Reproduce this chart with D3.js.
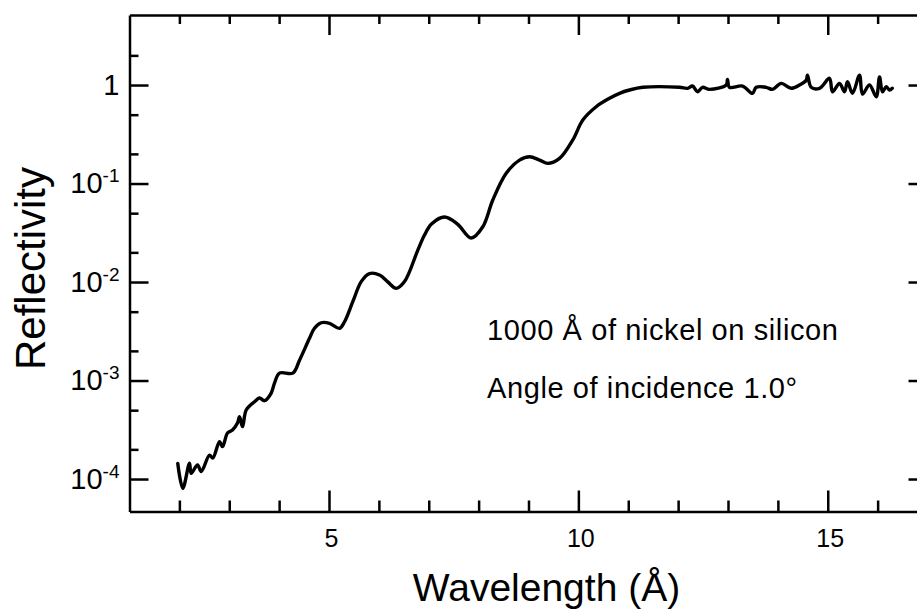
<!DOCTYPE html>
<html>
<head>
<meta charset="utf-8">
<script src="https://cdn.jsdelivr.net/npm/d3@7"></script>
<style>
  html, body { margin: 0; padding: 0; background: #fff; }
  svg { display: block; font-family: "Liberation Sans", Arial, Helvetica, sans-serif; }
  .axis path, .axis line { stroke: #000; stroke-width: 2.5; }
  .axis text { fill: #000; font-family: "Liberation Sans", Arial, Helvetica, sans-serif; }
</style>
</head>
<body>
<div id="chart"></div>
<script>
// Wavelength (Angstrom) and reflectivity
const wavelength = [
    1.968, 2.069, 2.203, 2.237, 2.363, 2.438, 2.604, 2.670, 2.805, 2.865,
    2.965, 3.065, 3.165, 3.206, 3.266, 3.340, 3.506, 3.607, 3.707, 3.841,
    3.907, 4.008, 4.274, 4.409, 4.609, 4.709, 4.844, 5.010, 5.211, 5.311,
    5.477, 5.646, 5.812, 6.013, 6.173, 6.347, 6.514, 6.781, 6.915, 7.055,
    7.316, 7.576, 7.851, 8.084, 8.284, 8.553, 8.820, 9.020, 9.221, 9.387,
    9.622, 9.888, 10.089, 10.357, 10.624, 10.825, 11.025, 11.292, 12.028, 12.188,
    12.288, 12.388, 12.489, 12.629, 12.964, 12.990, 13.030, 13.291, 13.491, 13.565,
    13.766, 13.892, 14.067, 14.267, 14.434, 14.568, 14.594, 14.668, 14.835, 15.035,
    15.095, 15.236, 15.336, 15.396, 15.496, 15.637, 15.697, 15.837, 15.972, 16.038,
    16.098, 16.172, 16.238, 16.293
];
const reflectivity = [
    1.44e-4, 8.05e-5, 1.45e-4, 1.14e-4, 1.39e-4, 1.19e-4, 1.75e-4, 1.63e-4, 2.39e-4, 2.13e-4,
    2.93e-4, 3.14e-4, 3.70e-4, 4.29e-4, 3.40e-4, 5.02e-4, 6.09e-4, 6.64e-4, 6.24e-4, 7.46e-4,
    9.43e-4, 1.19e-3, 1.19e-3, 1.61e-3, 2.68e-3, 3.39e-3, 3.86e-3, 3.81e-3, 3.39e-3, 3.95e-3,
    6.31e-3, 1.01e-2, 1.22e-2, 1.18e-2, 1.01e-2, 8.63e-3, 1.01e-2, 2.11e-2, 3.00e-2, 3.88e-2,
    4.57e-2, 3.88e-2, 2.80e-2, 3.64e-2, 6.80e-2, 0.127, 0.173, 0.187, 0.173, 0.160,
    0.180, 0.277, 0.441, 0.602, 0.733, 0.824, 0.890, 0.948, 0.948, 0.926,
    0.977, 0.855, 0.948, 0.904, 1.00, 1.14, 0.948, 0.977, 0.824, 0.948,
    0.948, 0.904, 1.04, 0.926, 1.00, 1.12, 1.26, 0.948, 0.926, 1.17,
    0.855, 1.04, 0.855, 1.08, 0.824, 1.26, 0.810, 1.00, 0.760, 1.21,
    0.855, 0.961, 0.890, 0.926
];

// Ticks
const xMajorTicks = [5, 10, 15];
const xMinorTicks = [2, 3, 4, 6, 7, 8, 9, 11, 12, 13, 14, 16];
const yMajorTicks = [1, 0.1, 0.01, 0.001, 0.0001];
const yTickBase = ['1', '10', '10', '10', '10'];
const yTickExp = ['', '-1', '-2', '-3', '-4'];
const yMinorTicks = [2, 0.5, 0.2, 0.05, 0.02, 0.005, 0.002, 0.0005, 0.0002];

// Texts
const xLabel = 'Wavelength (Å)';
const yLabel = 'Reflectivity';
const notes = ['1000 Å of nickel on silicon', 'Angle of incidence 1.0°'];

const width = 917;
const height = 611;

const svg = d3.select('#chart').append('svg')
    .attr('width', width)
    .attr('height', height);

const x = d3.scaleLinear().domain([1, 17]).range([129.5, 927.5]);
const y = d3.scaleLog().domain([4.68e-5, 5.14]).range([511.5, 15]);

const plotTop = y.range()[1];
const plotBottom = y.range()[0];
const plotLeft = x.range()[0];
const plotRight = x.range()[1];

function noDomain(sel) { sel.select('.domain').remove(); }

// Bottom axis
const bottomAxis = svg.append('g').attr('class', 'axis')
    .attr('transform', `translate(0,${plotBottom})`)
    .call(d3.axisBottom(x).tickValues(xMajorTicks).tickSizeInner(-21).tickSizeOuter(0).tickPadding(18));
bottomAxis.selectAll('.tick text').attr('font-size', 25).attr('dx', 2);
svg.append('g').attr('class', 'axis')
    .attr('transform', `translate(0,${plotBottom})`)
    .call(d3.axisBottom(x).tickValues(xMinorTicks).tickSizeInner(-11).tickSizeOuter(0).tickFormat(''))
    .call(noDomain);

// Top axis
svg.append('g').attr('class', 'axis')
    .attr('transform', `translate(0,${plotTop})`)
    .call(d3.axisTop(x).tickValues(xMajorTicks).tickSizeInner(-20).tickSizeOuter(0).tickFormat(''));
svg.append('g').attr('class', 'axis')
    .attr('transform', `translate(0,${plotTop})`)
    .call(d3.axisTop(x).tickValues(xMinorTicks).tickSizeInner(-9).tickSizeOuter(0).tickFormat(''))
    .call(noDomain);

// Left axis with 10^n labels
const leftAxis = svg.append('g').attr('class', 'axis')
    .attr('transform', `translate(${plotLeft},0)`)
    .call(d3.axisLeft(y).tickValues(yMajorTicks).tickSizeInner(-19).tickSizeOuter(0).tickPadding(10).tickFormat(''));
leftAxis.selectAll('.tick text').each(function(d) {
    const i = yMajorTicks.indexOf(d);
    const t = d3.select(this).attr('font-size', 29).attr('dy', 9);
    t.append('tspan').text(yTickBase[i]);
    if (yTickExp[i]) {
        t.append('tspan').attr('font-size', 19).attr('dy', -11).text(yTickExp[i]);
    }
});
svg.append('g').attr('class', 'axis')
    .attr('transform', `translate(${plotLeft},0)`)
    .call(d3.axisLeft(y).tickValues(yMinorTicks).tickSizeInner(-9).tickSizeOuter(0).tickFormat(''))
    .call(noDomain);

// Right axis
svg.append('g').attr('class', 'axis')
    .attr('transform', `translate(${plotRight},0)`)
    .call(d3.axisRight(y).tickValues(yMajorTicks).tickSizeInner(-19).tickSizeOuter(0).tickFormat(''));
svg.append('g').attr('class', 'axis')
    .attr('transform', `translate(${plotRight},0)`)
    .call(d3.axisRight(y).tickValues(yMinorTicks).tickSizeInner(-9).tickSizeOuter(0).tickFormat(''))
    .call(noDomain);

// Curve
const points = wavelength.map((w, i) => [w, reflectivity[i]]);
const line = d3.line()
    .x(d => x(d[0]))
    .y(d => y(d[1]))
    .curve(d3.curveCatmullRom.alpha(0.5));

svg.append('path')
    .datum(points)
    .attr('fill', 'none')
    .attr('stroke', '#000')
    .attr('stroke-width', 3.4)
    .attr('stroke-linejoin', 'round')
    .attr('stroke-linecap', 'round')
    .attr('d', line);

// Axis titles
svg.append('text')
    .attr('x', 546.5)
    .attr('y', 601)
    .attr('text-anchor', 'middle')
    .attr('font-size', 39)
    .text(xLabel);

svg.append('text')
    .attr('transform', 'translate(45,268.5) rotate(-90)')
    .attr('text-anchor', 'middle')
    .attr('font-size', 42)
    .text(yLabel);

// Notes
svg.selectAll('.note')
    .data(notes)
    .enter().append('text')
    .attr('class', 'note')
    .attr('x', 487)
    .attr('y', (d, i) => 340 + i * 58)
    .attr('font-size', 29)
    .attr('letter-spacing', 0.6)
    .text(d => d);
</script>
</body>
</html>
